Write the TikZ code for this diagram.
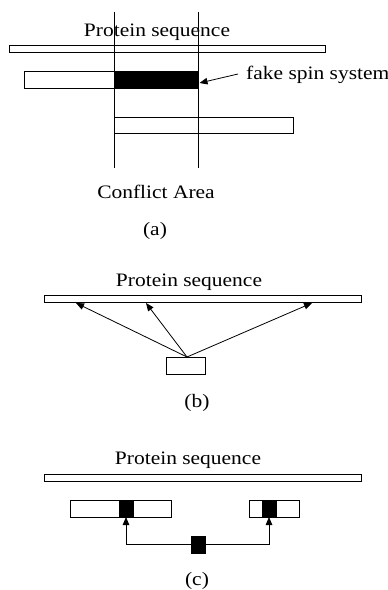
\documentclass[tikz,border=0pt]{standalone}
\usepackage{fontspec}
\usepackage{graphicx}
\setmainfont{Liberation Serif}
\usetikzlibrary{arrows.meta}
\newcommand{\widetext}[1]{\scalebox{1.13}[1]{#1}}
\tikzset{
  bar/.style={draw, line width=0.8pt, fill=white, inner sep=0pt, outer sep=0pt},
  solid block/.style={bar, fill=black},
  lbl/.style={inner sep=0pt, font=\fontsize{19}{22}\selectfont},
  guide/.style={line width=0.8pt},
  link/.style={line width=0.8pt, -{Triangle[length=8pt,width=6.5pt]}},
}
\begin{document}
\begin{tikzpicture}[x=1pt,y=-1pt]
\useasboundingbox (0,0) rectangle (388,590);

% ---------- (a) conflict area ----------
\node[lbl] (seqAtxt) at (157,32) {\widetext{Protein sequence}};
\node[bar, minimum width=316, minimum height=7] (seqA) at (167,48.5) {};
\node[bar, minimum width=90, minimum height=17] (leftA) at (69,79.5) {};
\node[solid block, minimum width=84, minimum height=17] (fakeA) at (156,79.5) {};
\node[bar, minimum width=179, minimum height=16] (lowA) at (203.5,125) {};
\coordinate (g1top) at (114,12);
\coordinate (g1bot) at (114,168);
\coordinate (g2top) at (198,12);
\coordinate (g2bot) at (198,168);
\draw[guide] (g1top) -- (g1bot);
\draw[guide] (g2top) -- (g2bot);
\node[lbl, anchor=west] (fakeTxt) at (246,75) {\widetext{fake spin system}};
\draw[link] (fakeTxt.west) ++(-8,-1) coordinate (fakeTail) -- (199.5,83);
\node[lbl] (conflict) at (156,192) {\widetext{Conflict Area}};
\node[lbl] (capA) at (155,231) {\widetext{(a)}};

% ---------- (b) one spin system, several positions ----------
\node[lbl] (seqBtxt) at (189,282) {\widetext{Protein sequence}};
\node[bar, minimum width=317, minimum height=6.5] (seqB) at (202.5,299) {};
\node[bar, minimum width=39, minimum height=17] (boxB) at (185.5,365.5) {};
\coordinate (hitB1) at (76,303);
\coordinate (hitB2) at (146,303);
\coordinate (hitB3) at (312,303);
\coordinate (srcB) at (187,357);
\draw[link] (srcB) -- (hitB1);
\draw[link] (srcB) -- (hitB2);
\draw[link] (srcB) -- (hitB3);
\node[lbl] (capB) at (197,403) {\widetext{(b)}};

% ---------- (c) shared spin system ----------
\node[lbl] (seqCtxt) at (188,460) {\widetext{Protein sequence}};
\node[bar, minimum width=317, minimum height=7] (seqC) at (202.5,477.5) {};
\node[bar, minimum width=101, minimum height=17] (leftC) at (120.5,508.5) {};
\node[solid block, minimum width=14, minimum height=17] (leftCblk) at (126,508.5) {};
\node[bar, minimum width=50, minimum height=17] (rightC) at (274,508.5) {};
\node[solid block, minimum width=14, minimum height=17] (rightCblk) at (269,508.5) {};
\node[solid block, minimum width=14, minimum height=17] (shared) at (198,544.5) {};
\draw[link] (shared.west) -| (leftCblk.south);
\draw[link] (shared.east) -| (rightCblk.south);
\node[lbl] (capC) at (197,581) {\widetext{(c)}};
\end{tikzpicture}
\end{document}
